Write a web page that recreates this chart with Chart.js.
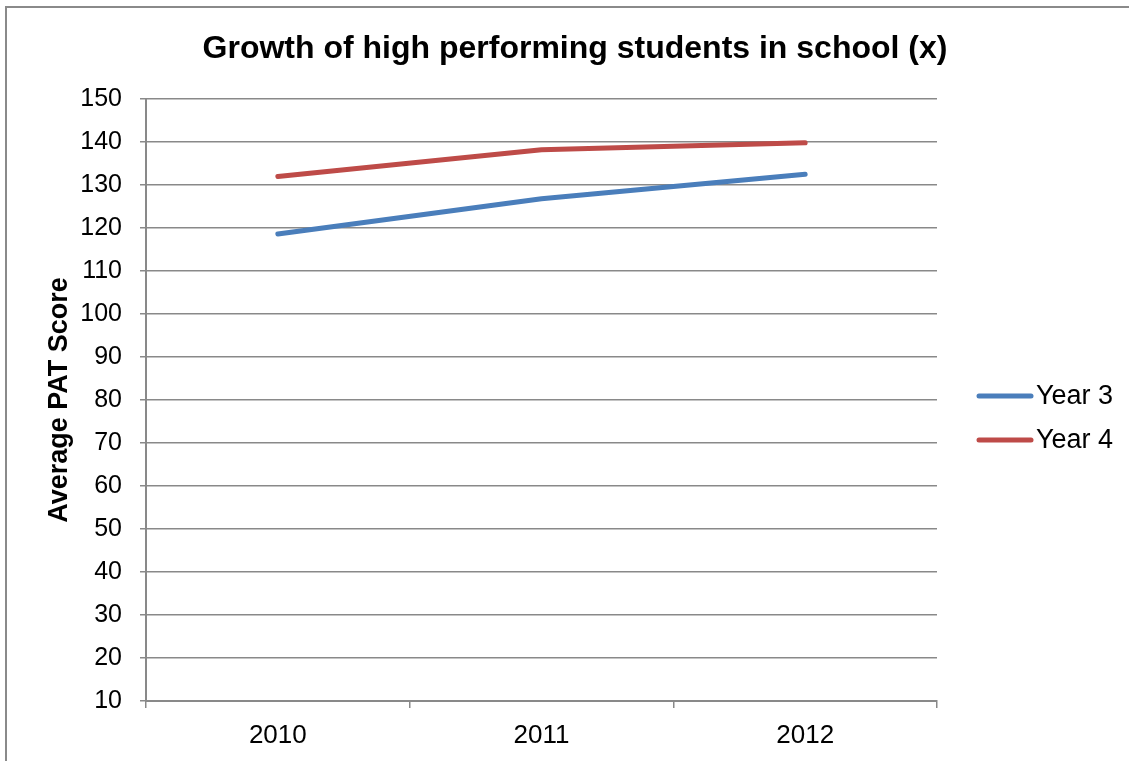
<!DOCTYPE html>
<html>
<head>
<meta charset="utf-8">
<script src="https://cdn.jsdelivr.net/npm/chart.js@4"></script>
<style>
  html, body { margin: 0; padding: 0; background: #fff; }
  #wrap { width: 1129px; height: 761px; }
</style>
</head>
<body>
<div id="wrap"><canvas id="chart" width="1129" height="761"></canvas></div>
<script>
// ── Data ──────────────────────────────────────────────────
const years      = ['2010', '2011', '2012'];
const year3      = [118.6, 126.8, 132.5];
const year4      = [132.0, 138.2, 139.8];
const seriesName = ['Year 3', 'Year 4'];
const yTicks     = { min: 10, max: 150, step: 10 };

const FONT  = "'Liberation Sans', Arial, sans-serif";
const GRID  = '#898989';
const BLUE  = '#4a7ebb';
const RED   = '#be4b48';

// outer frame of the chart object
const framePlugin = {
  id: 'frame',
  beforeDraw(chart) {
    const c = chart.ctx;
    c.save();
    c.strokeStyle = '#8a8a8a';
    c.lineWidth = 2;
    c.strokeRect(6, 7, chart.width + 20, chart.height + 20);
    c.restore();
  }
};

// legend on the right, drawn from the datasets
const sideLegend = {
  id: 'sideLegend',
  afterDraw(chart) {
    const c = chart.ctx;
    c.save();
    chart.data.datasets.forEach((ds, i) => {
      const y = 396 + i * 44;
      c.strokeStyle = ds.borderColor;
      c.lineWidth = 5;
      c.lineCap = 'round';
      c.beginPath();
      c.moveTo(979, y);
      c.lineTo(1031, y);
      c.stroke();
      c.fillStyle = '#000';
      c.font = '27px ' + FONT;
      c.textBaseline = 'middle';
      c.textAlign = 'left';
      c.fillText(ds.label, 1036, y + 1);
    });
    c.restore();
  }
};

new Chart(document.getElementById('chart'), {
  type: 'line',
  data: {
    labels: years,
    datasets: [
      { label: seriesName[0], data: year3, borderColor: BLUE, backgroundColor: BLUE },
      { label: seriesName[1], data: year4, borderColor: RED,  backgroundColor: RED }
    ]
  },
  options: {
    responsive: false,
    animation: false,
    layout: { padding: { left: 43, right: 22, top: 30, bottom: 0 } },
    elements: {
      line:  { borderWidth: 5, tension: 0, borderCapStyle: 'round', borderJoinStyle: 'round' },
      point: { radius: 0, hoverRadius: 0 }
    },
    plugins: {
      legend: { display: false },
      tooltip: { enabled: false },
      title: {
        display: true,
        text: 'Growth of high performing students in school (x)',
        color: '#000',
        font: { family: FONT, size: 32, weight: 'bold' },
        padding: { top: 0, bottom: 30.6 }
      }
    },
    scales: {
      x: {
        offset: true,
        grid: { display: true, drawOnChartArea: false, offset: true, tickLength: 7, color: GRID, lineWidth: 1.5 },
        border: { display: true, color: GRID, width: 2 },
        ticks: { color: '#000', padding: 12, font: { family: FONT, size: 26 } },
        afterFit: s => { s.height = 60; }
      },
      y: {
        min: yTicks.min,
        max: yTicks.max,
        ticks: { stepSize: yTicks.step, color: '#000', padding: 18, font: { family: FONT, size: 25 } },
        grid: { color: GRID, lineWidth: 1.5, tickLength: 6 },
        border: { display: true, color: GRID, width: 2 },
        title: {
          display: true,
          text: 'Average PAT Score',
          color: '#000',
          padding: 0,
          font: { family: FONT, size: 27, weight: 'bold' }
        },
        afterFit: s => { s.width = 103; }
      },
      yRight: {
        position: 'right',
        display: true,
        grid: { display: false },
        border: { display: false },
        ticks: { display: false },
        afterFit: s => { s.width = 170; }
      }
    }
  },
  plugins: [framePlugin, sideLegend]
});
</script>
</body>
</html>
